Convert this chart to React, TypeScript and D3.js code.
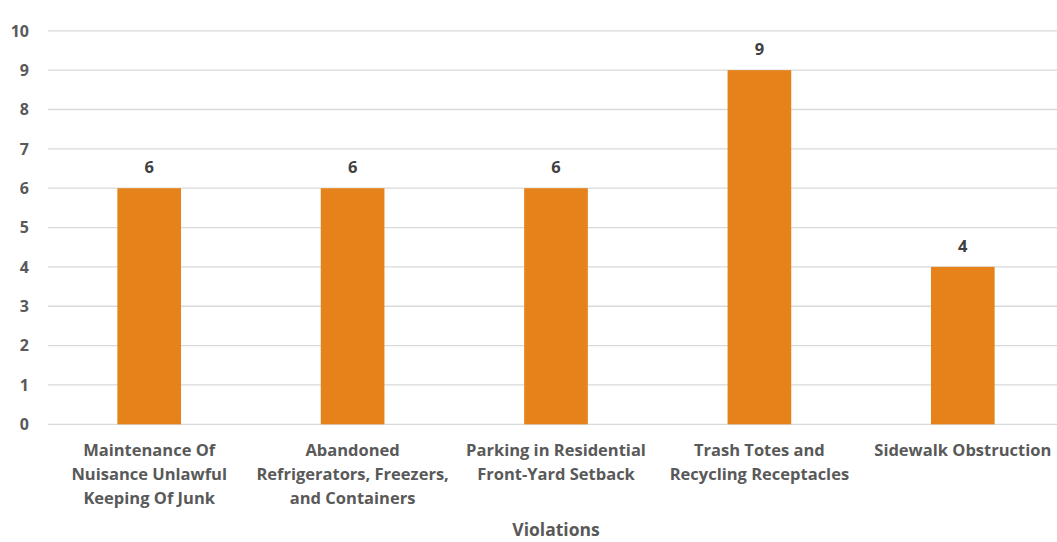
import React from "react";
import * as d3 from "d3";

const categories: string[][] = [
  ["Maintenance Of", "Nuisance Unlawful", "Keeping Of Junk"],
  ["Abandoned", "Refrigerators, Freezers,", "and Containers"],
  ["Parking in Residential", "Front-Yard Setback"],
  ["Trash Totes and", "Recycling Receptacles"],
  ["Sidewalk Obstruction"],
];
const values: number[] = [6, 6, 6, 9, 4];
const yTicks: number[] = [0, 1, 2, 3, 4, 5, 6, 7, 8, 9, 10];
const xTitle = "Violations";

const W = 1057;
const H = 542;
const FONT = "'Open Sans', Lato, sans-serif";

export default function App() {
  const keys = categories.map((_, i) => String(i));
  const x = d3.scaleBand<string>().domain(keys).range([47.5, 1064.5]).paddingInner(0.687).paddingOuter(0.3435);
  const y = d3.scaleLinear().domain([0, 10]).range([424.3, 30.8]);
  return (
    <svg width={W} height={H} style={{ position: "absolute", left: 0, top: 0, background: "#fff" }}>
      <g>
        {yTicks.map((t) => (
          <g key={t}>
            <line x1={48} x2={W} y1={y(t)} y2={y(t)} stroke="#d9d9d9" strokeWidth={1.3} />
            <text x={29} y={y(t)} dy="0.36em" textAnchor="end" fontFamily={FONT} fontWeight={700} fontSize={16} fill="#595959">
              {t}
            </text>
          </g>
        ))}
      </g>
      {values.map((v, i) => {
        const bx = x(String(i))!;
        const bw = x.bandwidth();
        return (
          <g key={i}>
            <rect x={bx} y={y(v)} width={bw} height={y(0) - y(v)} fill="#E5831A" />
            <text x={bx + bw / 2} y={y(v) - 15} textAnchor="middle" fontFamily={FONT} fontWeight={700} fontSize={16.5} fill="#404040">
              {v}
            </text>
            {categories[i].map((line, j) => (
              <text key={j} x={bx + bw / 2} y={456 + j * 24} textAnchor="middle" fontFamily={FONT} fontWeight={700} fontSize={16.5} fill="#595959">
                {line}
              </text>
            ))}
          </g>
        );
      })}
      <text x={556} y={536} textAnchor="middle" fontFamily={FONT} fontWeight={700} fontSize={17.5} fill="#595959">
        {xTitle}
      </text>
    </svg>
  );
}
